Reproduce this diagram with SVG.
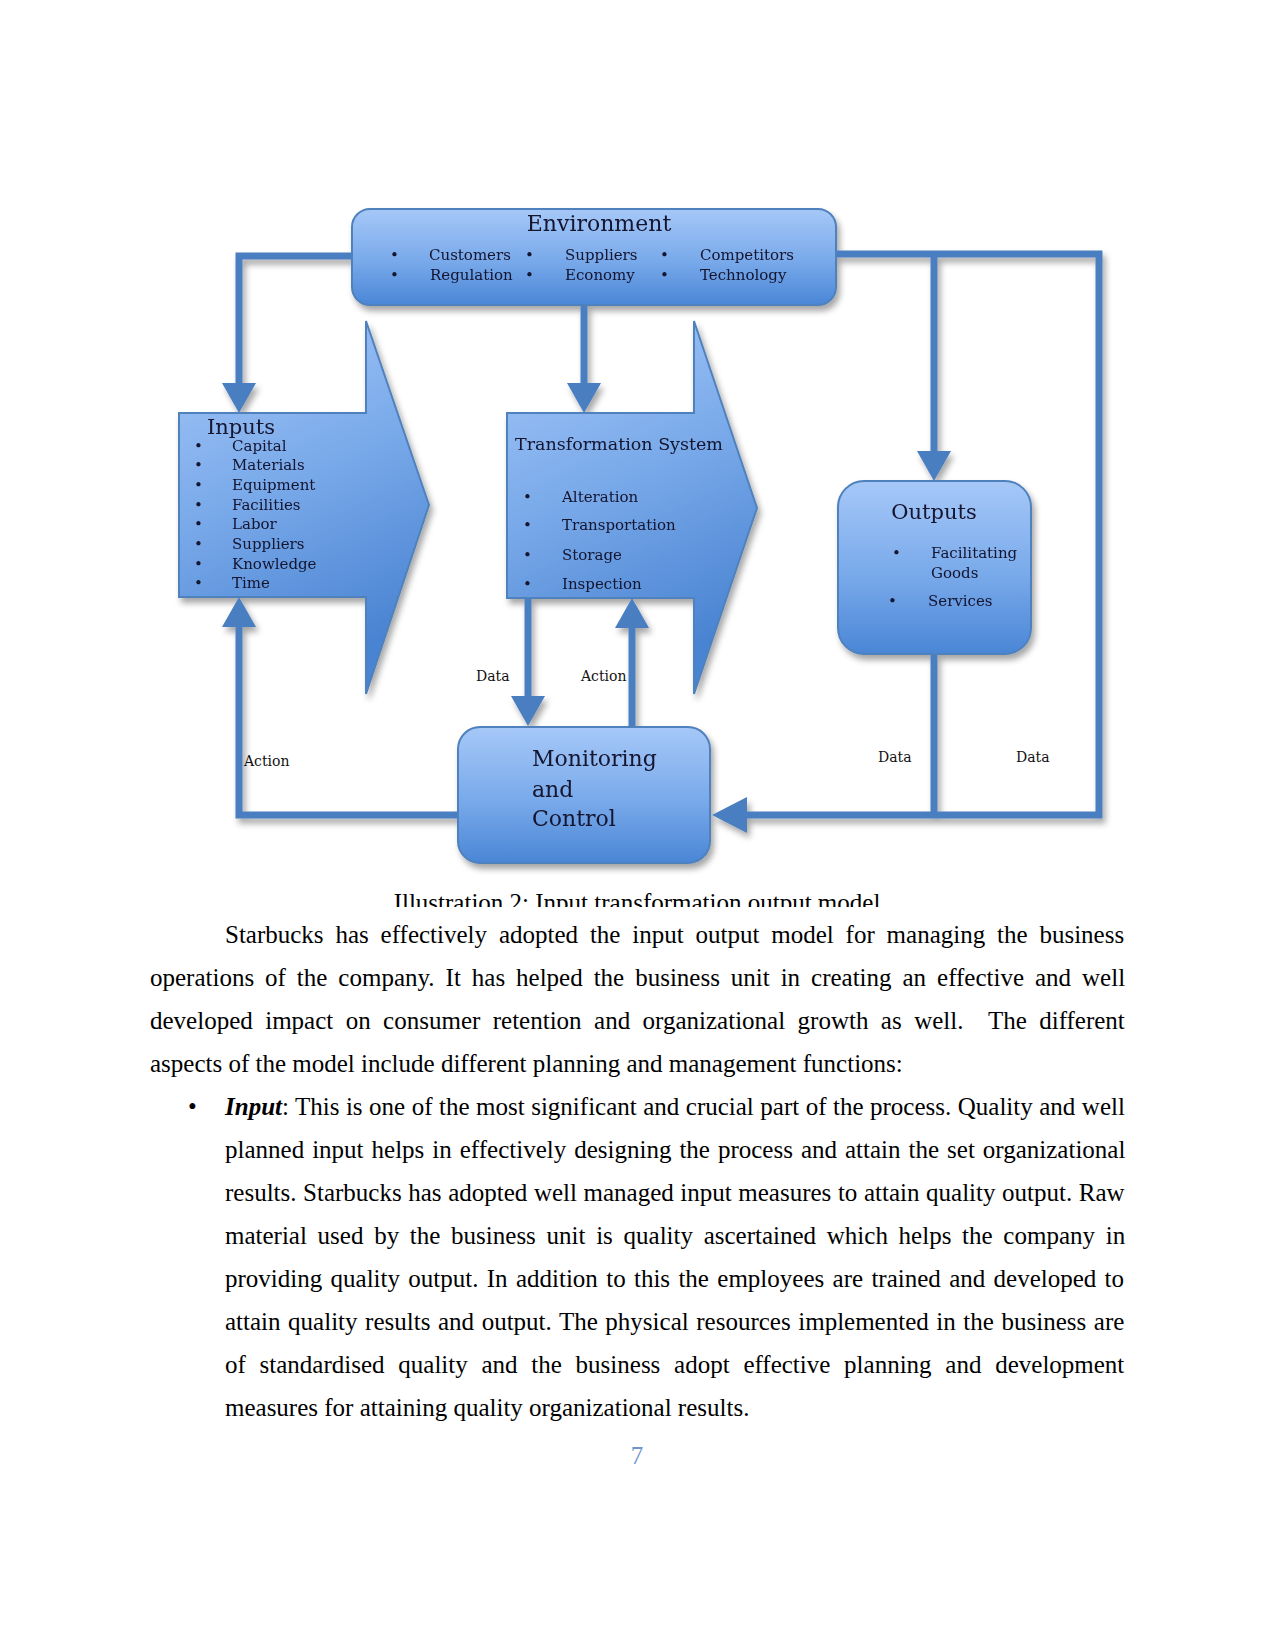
<svg xmlns="http://www.w3.org/2000/svg" width="1275" height="1650" viewBox="0 0 1275 1650">
<defs>
  <linearGradient id="gBox" x1="0" y1="0" x2="0" y2="1">
    <stop offset="0" stop-color="#a6c8f8"/>
    <stop offset="0.55" stop-color="#78a9ea"/>
    <stop offset="1" stop-color="#4a86d6"/>
  </linearGradient>
  <linearGradient id="gChev" x1="0" y1="0" x2="0.3" y2="1">
    <stop offset="0" stop-color="#a6c8f8"/>
    <stop offset="0.5" stop-color="#7aaaea"/>
    <stop offset="1" stop-color="#4a84d2"/>
  </linearGradient>
  <filter id="sh" x="-10%" y="-10%" width="130%" height="130%">
    <feDropShadow dx="3" dy="5" stdDeviation="3" flood-color="#000" flood-opacity="0.35"/>
  </filter>
  <clipPath id="capClip"><rect x="0" y="880" width="1275" height="27"/></clipPath>
</defs>
<style>
  .box { fill: url(#gBox); stroke: #4f81bd; stroke-width: 2; }
  .chev { fill: url(#gChev); stroke: #4f81bd; stroke-width: 2; }
  .ln { fill: none; stroke: #4a7ec0; stroke-width: 7; }
  .ah { fill: #4a7ec0; }
  .dt { font-family: "DejaVu Serif", "Liberation Serif", serif; fill: #12122e; }
  .t15 { font-size: 15px; }
  .lbl { font-family: "DejaVu Serif", "Liberation Serif", serif; font-size: 14px; fill: #111; }
  .body { font-family: "Liberation Serif", "Times New Roman", serif; font-size: 25px; fill: #000; }
</style>

<g id="diagram" filter="url(#sh)">
  <g id="connectors">
    <path class="ln" d="M352,256 H239 V385"/>
    <polygon class="ah" points="222,383 256,383 239,413"/>
    <path class="ln" d="M584,300 V385"/>
    <polygon class="ah" points="567,383 601,383 584,413"/>
    <path class="ln" d="M830,254 H1099 V815 H745"/>
    <polygon class="ah" points="747,797 747,833 712,815"/>
    <path class="ln" d="M934,254 V453"/>
    <polygon class="ah" points="917,451 951,451 934,481"/>
    <path class="ln" d="M934,650 V815"/>
    <path class="ln" d="M462,815 H239 V625"/>
    <polygon class="ah" points="222,627 256,627 239,597"/>
    <path class="ln" d="M528,598 V698"/>
    <polygon class="ah" points="511,696 545,696 528,726"/>
    <path class="ln" d="M632,728 V626"/>
    <polygon class="ah" points="615,628 649,628 632,598"/>
  </g>

  <g id="environment">
    <rect class="box" x="352" y="209" width="484" height="96" rx="18"/>
    <text class="dt" x="599" y="231" font-size="22" text-anchor="middle">Environment</text>
    <g class="dt t15">
      <text x="390" y="260">•</text><text x="429" y="260">Customers</text>
      <text x="390" y="280">•</text><text x="430" y="280">Regulation</text>
      <text x="525" y="260">•</text><text x="565" y="260">Suppliers</text>
      <text x="525" y="280">•</text><text x="565" y="280">Economy</text>
      <text x="660" y="260">•</text><text x="700" y="260">Competitors</text>
      <text x="660" y="280">•</text><text x="700" y="280">Technology</text>
    </g>
  </g>

  <g id="inputs">
    <polygon class="chev" points="179,413 366,413 366,321 429,505 366,694 366,597 179,597"/>
    <text class="dt" x="207" y="434" font-size="21">Inputs</text>
    <g class="dt t15">
      <text x="194" y="451">•</text><text x="232" y="451">Capital</text>
      <text x="194" y="470">•</text><text x="232" y="470">Materials</text>
      <text x="194" y="490">•</text><text x="232" y="490">Equipment</text>
      <text x="194" y="510">•</text><text x="232" y="510">Facilities</text>
      <text x="194" y="529">•</text><text x="232" y="529">Labor</text>
      <text x="194" y="549">•</text><text x="232" y="549">Suppliers</text>
      <text x="194" y="569">•</text><text x="232" y="569">Knowledge</text>
      <text x="194" y="588">•</text><text x="232" y="588">Time</text>
    </g>
  </g>

  <g id="transformation">
    <polygon class="chev" points="507,413 694,413 694,321 757,508 694,694 694,598 507,598"/>
    <text class="dt" x="515" y="450" font-size="17.5">Transformation System</text>
    <g class="dt t15">
      <text x="523" y="502">•</text><text x="562" y="502">Alteration</text>
      <text x="523" y="530">•</text><text x="562" y="530">Transportation</text>
      <text x="523" y="560">•</text><text x="562" y="560">Storage</text>
      <text x="523" y="589">•</text><text x="562" y="589">Inspection</text>
    </g>
  </g>

  <g id="outputs">
    <rect class="box" x="838" y="481" width="193" height="173" rx="26"/>
    <text class="dt" x="934" y="519" font-size="21" text-anchor="middle">Outputs</text>
    <g class="dt t15">
      <text x="892" y="558">•</text><text x="931" y="558">Facilitating</text>
      <text x="931" y="578">Goods</text>
      <text x="888" y="606">•</text><text x="928" y="606">Services</text>
    </g>
  </g>

  <g id="monitoring">
    <rect class="box" x="458" y="727" width="252" height="136" rx="22"/>
    <text class="dt" x="532" y="766" font-size="22">Monitoring</text>
    <text class="dt" x="532" y="797" font-size="22">and</text>
    <text class="dt" x="532" y="826" font-size="22">Control</text>
  </g>
</g>

<g id="labels">
  <text class="lbl" x="476" y="681">Data</text>
  <text class="lbl" x="581" y="681">Action</text>
  <text class="lbl" x="244" y="766">Action</text>
  <text class="lbl" x="878" y="762">Data</text>
  <text class="lbl" x="1016" y="762">Data</text>
</g>

<text class="body" x="637" y="911" font-size="22" text-anchor="middle" clip-path="url(#capClip)">Illustration 2: Input transformation output model</text>

<g id="body">
  <text class="body" x="225" y="943" word-spacing="5.6">Starbucks has effectively adopted the input output model for managing the business</text>
  <text class="body" x="150" y="986" word-spacing="4.7">operations of the company. It has helped the business unit in creating an effective and well</text>
  <text class="body" x="150" y="1029" word-spacing="6.2" xml:space="preserve">developed impact on consumer retention and organizational growth as well.  The different</text>
  <text class="body" x="150" y="1072">aspects of the model include different planning and management functions:</text>
  <text class="body" x="188" y="1115">•</text>
  <text class="body" x="225" y="1115" word-spacing="0.25"><tspan font-weight="bold" font-style="italic">Input</tspan>: This is one of the most significant and crucial part of the process. Quality and well</text>
  <text class="body" x="225" y="1158" word-spacing="1.75">planned input helps in effectively designing the process and attain the set organizational</text>
  <text class="body" x="225" y="1201" word-spacing="0.33">results. Starbucks has adopted well managed input measures to attain quality output. Raw</text>
  <text class="body" x="225" y="1244" word-spacing="4.46">material used by the business unit is quality ascertained which helps the company in</text>
  <text class="body" x="225" y="1287" word-spacing="2.08">providing quality output. In addition to this the employees are trained and developed to</text>
  <text class="body" x="225" y="1330" word-spacing="1.33">attain quality results and output. The physical resources implemented in the business are</text>
  <text class="body" x="225" y="1373" word-spacing="7.5">of standardised quality and the business adopt effective planning and development</text>
  <text class="body" x="225" y="1416">measures for attaining quality organizational results.</text>
  <text class="body" x="637" y="1464" text-anchor="middle" style="fill:#6f95cf">7</text>
</g>
</svg>
